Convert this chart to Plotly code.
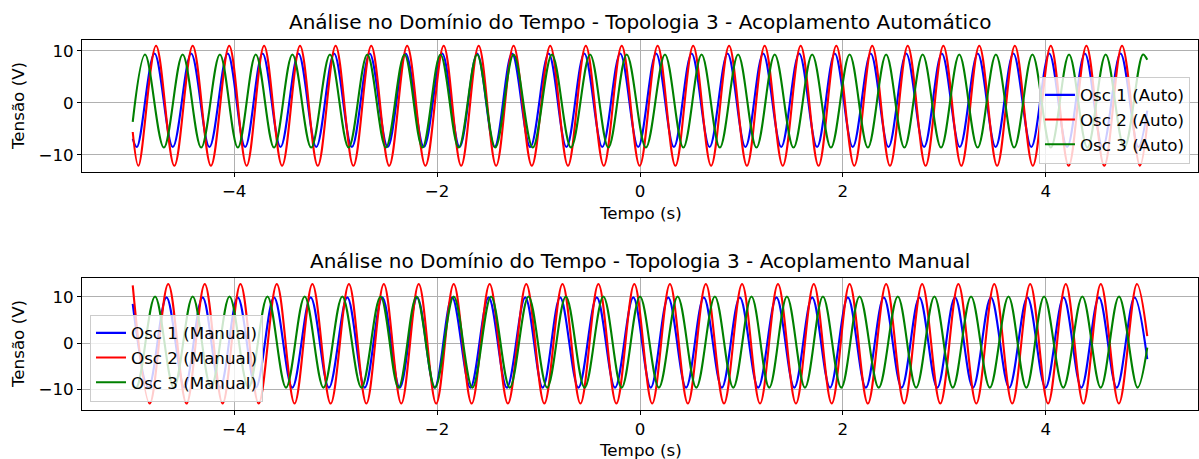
import plotly.graph_objects as go

# ---------------- data (times in s, values in V) ----------------
# Top panel: automatic coupling
auto_osc1_peaks = [-4.785, -4.424, -4.064, -3.720, -3.366, -3.015, -2.664, -2.310, -1.950, -1.605,
                   -1.261, -0.900, -0.549, -0.195, 0.159, 0.509, 0.863, 1.214, 1.569, 1.920,
                   2.274, 2.624, 2.975, 3.329, 3.680, 4.034, 4.385, 4.736]
auto_osc1_troughs = [-4.959, -4.605, -4.244, -3.892, -3.543, -3.191, -2.840, -2.487, -2.130, -1.778,
                     -1.433, -1.081, -0.725, -0.372, -0.018, 0.334, 0.686, 1.039, 1.392, 1.745,
                     2.097, 2.449, 2.800, 3.152, 3.505, 3.857, 4.210, 4.561, 4.912]
auto_osc1_levels = [9.5, -8.5]          # peak, trough
auto_osc1_ends = [-6.9, -1.5]           # value at t=-5, value at t=5

auto_osc2_peaks = [-4.770, -4.409, -4.049, -3.705, -3.351, -3.000, -2.649, -2.295, -1.935, -1.590,
                   -1.246, -0.885, -0.534, -0.180, 0.174, 0.524, 0.878, 1.229, 1.584, 1.935,
                   2.289, 2.639, 2.990, 3.344, 3.695, 4.049, 4.400, 4.751]
auto_osc2_troughs = [-4.944, -4.590, -4.229, -3.877, -3.528, -3.176, -2.825, -2.472, -2.115, -1.763,
                     -1.418, -1.066, -0.710, -0.357, -0.003, 0.349, 0.701, 1.054, 1.407, 1.760,
                     2.112, 2.464, 2.815, 3.167, 3.520, 3.872, 4.225, 4.576, 4.927]
auto_osc2_levels = [11.0, -12.1]
auto_osc2_ends = [-5.6, -4.0]

auto_osc3_peaks = [-4.878, -4.508, -4.141, -3.787, -3.426, -3.056, -2.688, -2.321, -1.967, -1.606,
                   -1.246, -0.868, -0.492, -0.131, 0.246, 0.607, 0.967, 1.328, 1.697, 2.066,
                   2.426, 2.786, 3.147, 3.508, 3.868, 4.229, 4.590, 4.957]
auto_osc3_troughs = [-4.693, -4.325, -3.964, -3.607, -3.241, -2.872, -2.505, -2.144, -1.787, -1.426,
                     -1.057, -0.680, -0.312, 0.058, 0.427, 0.787, 1.148, 1.513, 1.882, 2.246,
                     2.606, 2.967, 3.328, 3.688, 4.049, 4.410, 4.774]
auto_osc3_levels = [9.3, -8.6]
auto_osc3_ends = [-3.65, 8.3]

# Bottom panel: manual coupling
man_osc1_peaks = [-4.667, -4.311, -3.964, -3.607, -3.246, -2.885, -2.540, -2.196, -1.852, -1.492,
                  -1.131, -0.787, -0.426, -0.066, 0.278, 0.629, 0.984, 1.345, 1.697, 2.049,
                  2.403, 2.754, 3.105, 3.459, 3.819, 4.175, 4.524, 4.874]
man_osc1_troughs = [-4.844, -4.489, -4.138, -3.786, -3.427, -3.066, -2.713, -2.368, -2.024, -1.672,
                    -1.312, -0.959, -0.607, -0.246, 0.106, 0.454, 0.807, 1.165, 1.521, 1.873,
                    2.226, 2.579, 2.930, 3.282, 3.639, 3.997, 4.350, 4.699]
man_osc1_levels = [9.9, -9.65]
man_osc1_ends = [8.5, -3.5]

man_osc2_peaks = [-4.650, -4.290, -3.938, -3.580, -3.229, -2.869, -2.525, -2.181, -1.836, -1.482,
                  -1.121, -0.764, -0.410, -0.056, 0.295, 0.649, 1.006, 1.360, 1.713, 2.066,
                  2.426, 2.781, 3.138, 3.492, 3.846, 4.197, 4.542, 4.898]
man_osc2_troughs = [-4.832, -4.470, -4.114, -3.759, -3.405, -3.049, -2.697, -2.353, -2.009, -1.659,
                    -1.302, -0.943, -0.587, -0.233, 0.120, 0.472, 0.828, 1.183, 1.537, 1.890,
                    2.246, 2.604, 2.960, 3.315, 3.669, 4.022, 4.370, 4.720]
man_osc2_levels = [12.8, -13.1]
man_osc2_ends = [12.5, 1.5]

man_osc3_peaks = [-4.780, -4.409, -4.046, -3.672, -3.305, -2.934, -2.557, -2.203, -1.836, -1.468,
                  -1.099, -0.731, -0.361, 0.000, 0.371, 0.738, 1.099, 1.448, 1.803, 2.164,
                  2.541, 2.902, 3.263, 3.632, 3.983, 4.360, 4.721]
man_osc3_troughs = [-4.963, -4.595, -4.228, -3.859, -3.489, -3.120, -2.746, -2.380, -2.020, -1.652,
                    -1.284, -0.915, -0.546, -0.181, 0.186, 0.555, 0.919, 1.274, 1.626, 1.984,
                    2.353, 2.722, 3.083, 3.448, 3.808, 4.172, 4.541, 4.904]
man_osc3_levels = [10.1, -9.65]
man_osc3_ends = [-9.3, -1.0]

t_span = [-5.0, 5.0]

title_top = "Análise no Domínio do Tempo - Topologia 3 - Acoplamento Automático"
title_bottom = "Análise no Domínio do Tempo - Topologia 3 - Acoplamento Manual"
x_label = "Tempo (s)"
y_label = "Tensão (V)"
x_ticks = [-4, -2, 0, 2, 4]
x_ticktext = ["−4", "−2", "0", "2", "4"]
y_ticks = [-10, 0, 10]
y_ticktext = ["−10", "0", "10"]

names_top = ["Osc 1 (Auto)", "Osc 2 (Auto)", "Osc 3 (Auto)"]
names_bottom = ["Osc 1 (Manual)", "Osc 2 (Manual)", "Osc 3 (Manual)"]
colors = ["#0000ff", "#ff0000", "#008000"]


def build(peaks, troughs, levels, ends):
    pts = [(t, levels[0]) for t in peaks] + [(t, levels[1]) for t in troughs]
    pts = [p for p in pts if t_span[0] < p[0] < t_span[1]]
    pts.sort()
    pts = [(t_span[0], ends[0])] + pts + [(t_span[1], ends[1])]
    return [p[0] for p in pts], [p[1] for p in pts]


top_series = [
    build(auto_osc1_peaks, auto_osc1_troughs, auto_osc1_levels, auto_osc1_ends),
    build(auto_osc2_peaks, auto_osc2_troughs, auto_osc2_levels, auto_osc2_ends),
    build(auto_osc3_peaks, auto_osc3_troughs, auto_osc3_levels, auto_osc3_ends),
]
bottom_series = [
    build(man_osc1_peaks, man_osc1_troughs, man_osc1_levels, man_osc1_ends),
    build(man_osc2_peaks, man_osc2_troughs, man_osc2_levels, man_osc2_ends),
    build(man_osc3_peaks, man_osc3_troughs, man_osc3_levels, man_osc3_ends),
]

FONT = "DejaVu Sans"
FS = 16.7      # tick / label / legend font size
FS_TITLE = 20  # title font size
fig = go.Figure()

for (x, y), name, c in zip(top_series, names_top, colors):
    fig.add_trace(go.Scatter(x=x, y=y, mode="lines", name=name,
                             line=dict(color=c, width=2.1, shape="spline", smoothing=1.0),
                             xaxis="x", yaxis="y", legend="legend"))
for (x, y), name, c in zip(bottom_series, names_bottom, colors):
    fig.add_trace(go.Scatter(x=x, y=y, mode="lines", name=name,
                             line=dict(color=c, width=2.1, shape="spline", smoothing=1.0),
                             xaxis="x2", yaxis="y2", legend="legend2"))

W, H = 1199, 459
ml, mr, mt, mb = 82, 1, 40, 49
ph = H - mt - mb


def py(px):
    return 1 - (px - mt) / ph


axis_common = dict(showline=True, linecolor="black", linewidth=1, mirror=True,
                   showgrid=True, gridcolor="#b0b0b0", gridwidth=0.8, zeroline=False,
                   ticks="outside", ticklen=4, tickcolor="black", tickwidth=1,
                   tickfont=dict(family=FONT, size=FS, color="#000000"))

legend_common = dict(bgcolor="rgba(255,255,255,0.8)", bordercolor="#cccccc", borderwidth=1,
                     font=dict(family=FONT, size=FS, color="#000000"))

fig.update_layout(
    width=W, height=H,
    margin=dict(l=ml, r=mr, t=mt, b=mb),
    paper_bgcolor="white", plot_bgcolor="white",
    font=dict(family=FONT, size=FS, color="#000000"),
    xaxis=dict(domain=[0, 1], anchor="y", range=[-5.5, 5.5], tickvals=x_ticks, ticktext=x_ticktext,
               **axis_common),
    yaxis=dict(domain=[py(172), 1], anchor="x", range=[-13.3, 12.1], tickvals=y_ticks,
               ticktext=y_ticktext, **axis_common),
    xaxis2=dict(domain=[0, 1], anchor="y2", range=[-5.5, 5.5], tickvals=x_ticks, ticktext=x_ticktext,
                **axis_common),
    yaxis2=dict(domain=[0, py(278)], anchor="x2", range=[-14.5, 14.1], tickvals=y_ticks,
                ticktext=y_ticktext, **axis_common),
    legend=dict(x=0.9928, y=py(163.5), xanchor="right", yanchor="bottom", **legend_common),
    legend2=dict(x=(90 - ml) / (W - ml - mr), y=py(401.5), xanchor="left", yanchor="bottom",
                 **legend_common),
    showlegend=True,
)

ann = dict(xref="paper", yref="paper", showarrow=False)
fig.add_annotation(x=0.5, y=py(22), text=title_top, xanchor="center", yanchor="middle",
                   font=dict(family=FONT, size=FS_TITLE, color="#000000"), **ann)
fig.add_annotation(x=0.5, y=py(261), text=title_bottom, xanchor="center", yanchor="middle",
                   font=dict(family=FONT, size=FS_TITLE, color="#000000"), **ann)
fig.add_annotation(x=0.5, y=py(213), text=x_label, xanchor="center", yanchor="middle",
                   font=dict(family=FONT, size=FS, color="#000000"), **ann)
fig.add_annotation(x=0.5, y=py(450), text=x_label, xanchor="center", yanchor="middle",
                   font=dict(family=FONT, size=FS, color="#000000"), **ann)
for ymid in [(40 + 172) / 2, (278 + 410) / 2]:
    fig.add_annotation(x=(18 - ml) / (W - ml - mr), y=py(ymid), text=y_label, textangle=-90,
                       xanchor="center", yanchor="middle",
                       font=dict(family=FONT, size=FS, color="#000000"), **ann)

fig.write_html(
    "out.html",
    config={"displayModeBar": False},
    post_script="document.body.style.margin='0';document.body.style.overflow='hidden';",
)
